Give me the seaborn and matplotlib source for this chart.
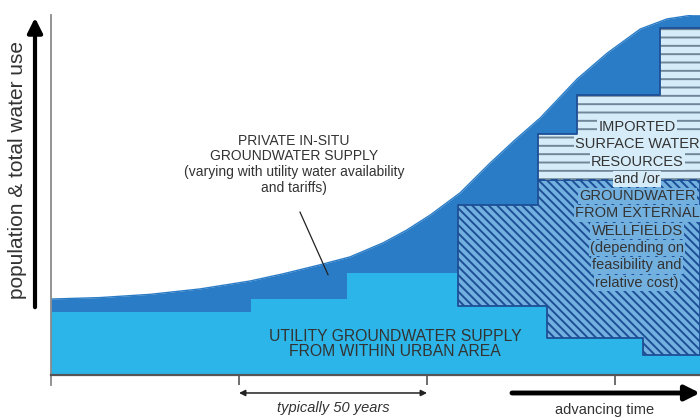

# Conceptual diagram: urban water supply sources as population & water use grow over time
import matplotlib
matplotlib.use("Agg")
import matplotlib.pyplot as plt
import seaborn as sns

OUTPUT_FILE = "out.png"

sns.set_theme(style="white")
plt.rcParams["font.family"] = ["Liberation Sans", "DejaVu Sans"]
plt.rcParams["hatch.linewidth"] = 1.4

# total water use curve (time in years, use in relative units 0-100)
curve_years = [0, 13.0, 26.3, 39.6, 52.9, 61.7, 71.5, 79.5, 88.3, 94.5, 100.8,
               108.8, 116.8, 123.4, 130.1, 139.9, 147.9, 156.7, 163.8, 170.7, 172.6]
curve_use = [21.1, 21.5, 22.4, 23.9, 26.1, 28.1, 30.6, 32.8, 36.7, 40.2, 44.4,
             50.6, 58.9, 65.3, 71.4, 82.2, 89.4, 96.1, 98.9, 100, 100]

# utility groundwater from within urban area (step edges + levels)
utility_edges = [0, 53.2, 78.7, 108.2, 131.9, 157.4, 172.6]
utility_level = [17.5, 21.1, 28.3, 19.2, 10.3, 5.6, 5.6]

# groundwater from external wellfields
wellfield_edges = [108.2, 129.5, 131.9, 157.4, 172.6]
wellfield_top = [47.2, 54.2, 54.2, 54.2, 54.2]
wellfield_base = [19.2, 19.2, 10.3, 5.6, 5.6]

# imported surface water resources
imported_edges = [129.5, 139.9, 162.0, 172.6]
imported_top = [66.9, 77.8, 96.4, 96.4]
imported_base = [54.2, 54.2, 54.2, 54.2]

time_ticks = [50, 100, 150]

DARK = "#2a7cc6"
CYAN = "#2cb5e8"
MID = "#72b0e0"
PALE = "#d6ecf8"
NAVY = "#1d4f96"
TXT = "#333333"

fig = plt.figure(figsize=(7, 4.2), dpi=100)
ax = fig.add_axes([51 / 700, 35 / 420, 649 / 700, 370 / 420])

# private in-situ supply = whole area under the total curve
ax.fill_between(curve_years, 0, curve_use, color=DARK, lw=0)
sns.lineplot(x=curve_years, y=curve_use, color=DARK, lw=1.0, ax=ax)

# utility groundwater
ax.fill_between(utility_edges, 0, utility_level, step="post", color=CYAN, lw=0)

# external wellfields (diagonal hatch)
ax.fill_between(wellfield_edges, wellfield_base, wellfield_top, step="post",
                facecolor=MID, edgecolor=NAVY, hatch="\\\\\\\\", lw=1.3)

# imported surface water (horizontal lines)
ax.fill_between(imported_edges, imported_base, imported_top, step="post",
                facecolor=PALE, edgecolor="#6f8799", hatch="--", lw=0)
ax.step(imported_edges, imported_top, where="post", color=NAVY, lw=1.3)
ax.plot([imported_edges[0], imported_edges[0]], [imported_base[0], imported_top[0]],
        color=NAVY, lw=1.3)
ax.plot(imported_edges, imported_base, color=NAVY, lw=1.3, ls=(0, (4, 3)))

ax.set_xlim(0, 172.6)
ax.set_ylim(-2.78, 100)
ax.set_xticks(time_ticks)
ax.set_xticklabels([])
ax.set_yticks([])
ax.set_xlabel("")
ax.set_ylabel("")
for s in ["top", "right"]:
    ax.spines[s].set_visible(False)
ax.spines["left"].set_color("#8a8a8a")
ax.spines["left"].set_linewidth(1.3)
ax.spines["bottom"].set_position(("data", 0))
ax.spines["bottom"].set_color("#555555")
ax.spines["bottom"].set_linewidth(1.6)
ax.tick_params(axis="x", direction="out", length=7, width=1.2, color="#555555", bottom=True)

# labels
ax.text(64.6, 58.6, "PRIVATE IN-SITU\nGROUNDWATER SUPPLY\n(varying with utility water availability\nand tariffs)",
        ha="center", va="center", fontsize=10, color=TXT, linespacing=1.15)
ax.plot([66.2, 73.7], [45.3, 27.8], color="#222222", lw=0.9)

ax.text(91.5, 8.6, "UTILITY GROUNDWATER SUPPLY\nFROM WITHIN URBAN AREA",
        ha="center", va="center", fontsize=11.3, color=TXT, linespacing=1.05)

right_lines = ["IMPORTED", "SURFACE WATER", "RESOURCES", "and /or", "GROUNDWATER",
               "FROM EXTERNAL", "WELLFIELDS", "(depending on", "feasibility and", "relative cost)"]
for i, line in enumerate(right_lines):
    y = (375 - (127 + i * 17.3)) / 3.6
    bg = PALE if i < 4 else MID
    ax.text(155.9, y, line, ha="center", va="center", fontsize=10.5, color=TXT,
            bbox=dict(boxstyle="square,pad=0.08", fc=bg, ec="none"))

# time annotations
ax.annotate("", xy=(100, -5), xytext=(50, -5), annotation_clip=False,
            arrowprops=dict(arrowstyle="<|-|>", color="#222222", lw=1.1,
                            mutation_scale=9, shrinkA=0, shrinkB=0))
ax.text(75, -9.3, "typically 50 years", ha="center", va="center", fontsize=10.5,
        style="italic", color=TXT, clip_on=False)
ax.annotate("", xy=(172.6, -5), xytext=(122.6, -5), annotation_clip=False,
            arrowprops=dict(arrowstyle="-|>", color="black", lw=3.5,
                            mutation_scale=22, shrinkA=0, shrinkB=0))
ax.text(147.3, -9.7, "advancing time", ha="center", va="center", fontsize=10.5,
        color=TXT, clip_on=False)

# vertical axis arrow and label
fig.patches.append(matplotlib.patches.FancyArrowPatch(
    (35 / 700, 1 - 310 / 420), (35 / 700, 1 - 15 / 420), transform=fig.transFigure,
    arrowstyle="-|>", mutation_scale=22, lw=3, color="black"))
fig.text(18 / 700, 1 - 170 / 420, "population & total water use", rotation=90,
         ha="center", va="center", fontsize=15, color=TXT)

fig.savefig(OUTPUT_FILE, dpi=100)
plt.close(fig)
